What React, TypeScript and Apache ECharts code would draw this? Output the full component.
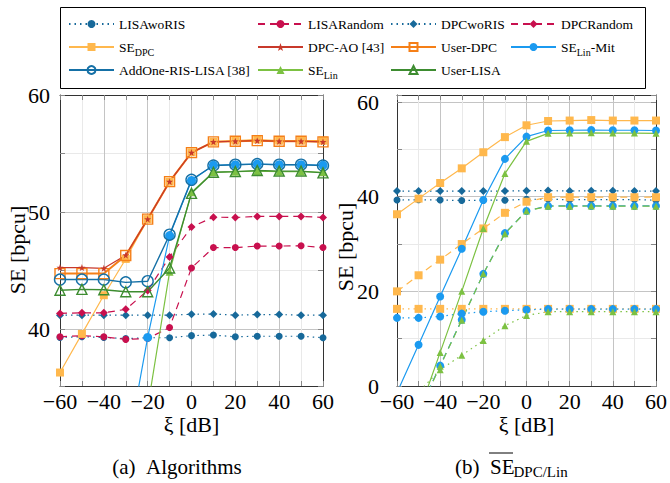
import React, { useEffect, useRef } from 'react';
import * as echarts from 'echarts';

// ---------- data ----------
const xi = [-60, -50, -40, -30, -20, -10, 0, 10, 20, 30, 40, 50, 60];

// (a) Algorithms
const lisaWoRIS = [39.3, 39.35, 39.3, 39.2, 39.27, 39.27, 39.45, 39.5, 39.35, 39.4, 39.4, 39.4, 39.27];
const lisaRandom = [39.35, 39.45, 39.35, 39.13, 39.2, 40.15, 45.23, 46.97, 46.97, 47.1, 47.1, 47.13, 46.97];
const dpcWoRIS = [41.2, 41.2, 41.2, 41.2, 41.2, 41.2, 41.27, 41.3, 41.2, 41.25, 41.25, 41.2, 41.2];
const dpcRandom = [41.35, 41.4, 41.4, 41.7, 43.3, 46.17, 48.72, 49.57, 49.54, 49.63, 49.63, 49.63, 49.54];
const seDpc = [36.3, 39.6, 42.9, 46.0, 49.4, 52.6, 55.1, 56.0, 56.1, 56.2, 56.1, 56.1, 56.1];
const dpcAo = [45.26, 45.26, 45.2, 46.32, 49.4, 52.6, 55.08, 56.0, 56.05, 56.1, 56.05, 56.05, 56.0];
const userDpc = [44.75, 44.75, 44.75, 46.3, 49.4, 52.6, 55.08, 56.0, 56.05, 56.1, 56.05, 56.05, 56.0];
const seLinMit = [-1.4, 8.7, 18.9, 29.0, 39.3, 48.0, 52.7, 54.0, 54.05, 54.1, 54.05, 54.05, 54.0];
const addOne = [44.24, 44.24, 44.24, 44.0, 44.1, 48.07, 52.76, 53.98, 54.05, 54.1, 54.05, 54.05, 53.98];
const seLin = [-18.6, -5.8, 7.1, 20.0, 33.3, 44.9, 51.7, 53.4, 53.45, 53.5, 53.45, 53.45, 53.4];
const userLisa = [43.33, 43.4, 43.37, 43.2, 43.2, 45.23, 51.6, 53.4, 53.46, 53.55, 53.5, 53.5, 53.35];

// (b) SE_DPC/Lin variants
const seDpcDashed = [20.0, 23.4, 26.7, 30.0, 33.3, 36.6, 38.95, 39.9, 39.9, 39.9, 39.9, 39.9, 39.9];
const seLinMitDashed = [-15, -5.3, 4.3, 14.0, 23.7, 32.3, 37.0, 38.05, 38.05, 38.05, 38.05, 38.05, 38.05];
const seLinDashed = [-15, -5.5, 4.2, 13.9, 23.7, 32.2, 37.0, 38.0, 38.0, 38.05, 38.0, 38.0, 38.0];
const seDpcDotted = [16.3, 16.3, 16.3, 16.3, 16.3, 16.3, 16.3, 16.3, 16.3, 16.3, 16.3, 16.3, 16.3];
const seLinMitDotted = [14.4, 14.4, 14.7, 15.3, 15.7, 15.9, 16.1, 16.25, 16.25, 16.25, 16.25, 16.25, 16.25];
const seLinDotted = [-6, -1.3, 3.45, 6.5, 9.6, 12.75, 14.9, 15.7, 15.7, 15.7, 15.7, 15.7, 15.7];

const legendCols = [
  ['LISAwoRIS', 'SE_DPC', 'AddOne-RIS-LISA [38]'],
  ['LISARandom', 'DPC-AO [43]', 'SE_Lin'],
  ['DPCwoRIS', 'User-DPC', 'User-LISA'],
  ['DPCRandom', 'SE_Lin-Mit'],
];
const legendLabels: Record<string, string> = {
  SE_DPC: 'SE{s|DPC}',
  SE_Lin: 'SE{s|Lin}',
  'SE_Lin-Mit': 'SE{s|Lin}-Mit',
};

// ---------- style ----------
const FONT = "'Liberation Serif', 'Times New Roman', serif";
const C = {
  teal: '#17699a',
  crimson: '#c8104e',
  seDpc: '#ffb84d',
  dpcAo: '#c8392b',
  userDpc: '#f57f17',
  linMit: '#1b9af0',
  addOne: '#1570a6',
  seLin: '#7cc142',
  userLisa: '#3d8c30',
};
const DOT = [1.5, 4];
const DASH = [7, 5];
const FS = 22;

const pairs = (ys: number[]) => xi.map((x, i) => [x, ys[i]]);

function ser(
  name: string,
  ys: number[],
  g: number,
  color: string,
  lineType: any,
  symbol: string,
  size: number,
  opts: { hollow?: boolean; width?: number; border?: number } = {}
) {
  return {
    type: 'line',
    name,
    xAxisIndex: g * 2,
    yAxisIndex: g * 2,
    data: pairs(ys),
    symbol,
    symbolSize: size,
    showSymbol: true,
    clip: true,
    lineStyle: { color, width: opts.width ?? 1.2, type: lineType },
    itemStyle: opts.hollow
      ? { color: 'rgba(255,255,255,0)', borderColor: color, borderWidth: opts.border ?? 1.4 }
      : { color, borderWidth: 0 },
    emphasis: { disabled: true },
  };
}

function axesFor(g: number, left: boolean) {
  const gridColorX = ['#c4c4c4', '#e9e9e9'];
  const xCommon = {
    type: 'value',
    gridIndex: g,
    min: -60,
    max: 60,
    interval: 10,
    axisLine: { show: true, onZero: false, lineStyle: { color: '#333', width: 1 } },
    axisTick: { show: true, inside: true, length: 5, lineStyle: { color: '#888' } },
  };
  const xs = [
    {
      ...xCommon,
      position: 'bottom',
      axisLabel: {
        show: true,
        margin: 4,
        fontFamily: FONT,
        fontSize: FS,
        lineHeight: 22,
        color: '#000',
        formatter: (v: number) => (v % 20 === 0 ? (v < 0 ? '\u2212' + Math.abs(v) : String(v)) : ''),
      },
      splitLine: { show: true, lineStyle: { color: gridColorX, width: 1 } },
      name: '\u03BE [dB]',
      nameLocation: 'middle',
      nameGap: 27,
      nameMoveOverlap: false,
      nameTextStyle: { fontFamily: FONT, fontSize: FS, lineHeight: 22, color: '#000' },
    },
    { ...xCommon, position: 'top', axisLabel: { show: false }, splitLine: { show: false } },
  ];
  const yCommon = left
    ? { type: 'value', gridIndex: g, min: 35.15, max: 60 }
    : { type: 'value', gridIndex: g, min: 0, max: 61.5, interval: 10 };
  const yTick = { show: true, inside: true, length: 5, lineStyle: { color: '#888' } };
  const yLine = { show: true, onZero: false, lineStyle: { color: '#333', width: 1 } };
  const step = left ? 10 : 20;
  const ys = [
    {
      ...yCommon,
      position: 'left',
      axisLine: yLine,
      axisTick: yTick,
      axisLabel: {
        show: true,
        margin: left ? 10 : 18,
        fontFamily: FONT,
        fontSize: FS,
        color: '#000',
        formatter: (v: number) => (Math.abs(v % step) < 1e-6 ? String(v) : ''),
      },
      splitLine: {
        show: true,
        lineStyle: { color: left ? ['#e9e9e9', '#c4c4c4'] : ['#c4c4c4', '#e9e9e9'], width: 1 },
      },
    },
    {
      ...yCommon,
      position: 'right',
      axisLine: yLine,
      axisTick: yTick,
      axisLabel: { show: false },
      splitLine: { show: false },
    },
  ];
  return { xs, ys };
}

export default function App() {
  const ref = useRef<HTMLDivElement>(null);
  useEffect(() => {
    if (!ref.current) return;
    const chart = echarts.init(ref.current, undefined, { renderer: 'svg' });
    const a = axesFor(0, true);
    const b = axesFor(1, false);

    const star =
      'path://M0,-10L2.35,-3.24L9.51,-3.09L3.8,1.24L5.88,8.09L0,4L-5.88,8.09L-3.8,1.24L-9.51,-3.09L-2.35,-3.24Z';

    const series = [
      // (a)
      ser('LISAwoRIS', lisaWoRIS, 0, C.teal, DOT, 'circle', 7),
      ser('DPCwoRIS', dpcWoRIS, 0, C.teal, DOT, 'diamond', 8),
      ser('LISARandom', lisaRandom, 0, C.crimson, DASH, 'circle', 7),
      ser('DPCRandom', dpcRandom, 0, C.crimson, DASH, 'diamond', 8),
      ser('SE_DPC', seDpc, 0, C.seDpc, 'solid', 'rect', 8),
      ser('User-DPC', userDpc, 0, C.userDpc, 'solid', 'rect', 10, { hollow: true, width: 2 }),
      ser('DPC-AO [43]', dpcAo, 0, C.dpcAo, 'solid', star, 7),
      ser('SE_Lin-Mit', seLinMit, 0, C.linMit, 'solid', 'circle', 9),
      ser('AddOne-RIS-LISA [38]', addOne, 0, C.addOne, 'solid', 'circle', 11, { hollow: true, width: 1.4 }),
      ser('SE_Lin', seLin, 0, C.seLin, 'solid', 'triangle', 8),
      ser('User-LISA', userLisa, 0, C.userLisa, 'solid', 'triangle', 10, { hollow: true, width: 1.4 }),
      // (b)
      ser('LISAwoRIS', lisaWoRIS, 1, C.teal, DOT, 'circle', 7),
      ser('DPCwoRIS', dpcWoRIS, 1, C.teal, DOT, 'diamond', 8),
      ser('SE_DPC dotted', seDpcDotted, 1, C.seDpc, DOT, 'rect', 8),
      ser('SE_Lin-Mit dotted', seLinMitDotted, 1, C.linMit, DOT, 'circle', 8),
      ser('SE_Lin dotted', seLinDotted, 1, C.seLin, DOT, 'triangle', 7),
      ser('SE_DPC dashed', seDpcDashed, 1, C.seDpc, DASH, 'rect', 8),
      ser('SE_Lin-Mit dashed', seLinMitDashed, 1, C.linMit, DASH, 'circle', 8),
      ser('SE_Lin dashed', seLinDashed, 1, C.seLin, DASH, 'triangle', 7),
      ser('SE_DPC', seDpc, 1, C.seDpc, 'solid', 'rect', 8),
      ser('SE_Lin-Mit', seLinMit, 1, C.linMit, 'solid', 'circle', 8),
      ser('SE_Lin', seLin, 1, C.seLin, 'solid', 'triangle', 7),
    ];

    const colLeft = [68, 257, 390, 510];
    const legend = legendCols.map((data, i) => ({
      orient: 'vertical',
      left: colLeft[i],
      top: 14,
      padding: 0,
      itemGap: 3,
      itemWidth: 45,
      itemHeight: 10,
      selectedMode: false,
      data,
      formatter: (n: string) => legendLabels[n] ?? n,
      textStyle: {
        fontFamily: FONT,
        fontSize: 13.5,
        color: '#000',
        lineHeight: 20,
        rich: {
          s: { fontFamily: FONT, fontSize: 10, lineHeight: 10, verticalAlign: 'bottom', color: '#000' },
        },
      },
    }));

    const txt = (text: string, x: number, y: number, size: number, align: string, rotation = 0) => ({
      type: 'text',
      x,
      y,
      rotation,
      style: {
        text,
        fontFamily: FONT,
        fontSize: size,
        fill: '#000',
        align,
        verticalAlign: 'middle',
        textAlign: align,
        textVerticalAlign: 'middle',
      },
    });

    chart.setOption({
      animation: false,
      backgroundColor: '#fff',
      grid: [
        { left: 60, right: 347, top: 95, bottom: 97, containLabel: false },
        { left: 397, right: 8, top: 95, bottom: 97, containLabel: false },
      ],
      xAxis: [...a.xs, ...b.xs],
      yAxis: [...a.ys, ...b.ys],
      legend,
      series,
      graphic: [
        {
          type: 'rect',
          shape: { x: 60.5, y: 7.5, width: 585, height: 81 },
          style: { fill: 'none', stroke: '#000', lineWidth: 1 },
          silent: true,
        },
        txt('SE [bpcu]', 17, 250, FS, 'center', Math.PI / 2),
        txt('SE [bpcu]', 345, 247, FS, 'center', Math.PI / 2),
        txt('(a)\u2002Algorithms', 177, 467, 21, 'center'),
        txt('(b)\u2002SE', 455, 467, 21, 'left'),
        txt('DPC/Lin', 513.5, 472, 15, 'left'),
        {
          type: 'line',
          shape: { x1: 489, y1: 453, x2: 513, y2: 453 },
          style: { stroke: '#000', lineWidth: 1 },
        },
      ],
    });
    return () => chart.dispose();
  }, []);
  return (
    <div
      ref={ref}
      style={{ position: 'fixed', left: 0, top: 0, width: 670, height: 483, background: '#fff' }}
    />
  );
}
